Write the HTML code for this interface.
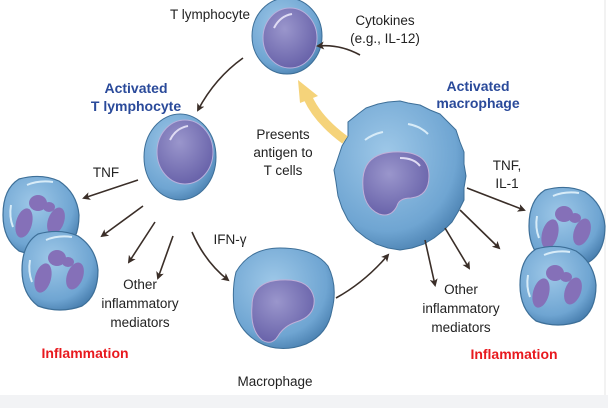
<!DOCTYPE html>
<html><head><meta charset="utf-8"><style>
body{margin:0;background:#fff}
svg{display:block}
text{font-family:"Liberation Sans",sans-serif;font-size:13.5px;fill:#222}
.b{fill:#2a4a9a;font-weight:bold;font-size:14px}
.r{fill:#e8191e;font-weight:bold;font-size:14px}
</style></head><body>
<svg width="608" height="408" viewBox="0 0 608 408" xmlns="http://www.w3.org/2000/svg">
<defs>
<radialGradient id="cell" cx="40%" cy="35%" r="70%"><stop offset="0" stop-color="#9ec8e8"/><stop offset="0.75" stop-color="#6fa5d2"/><stop offset="1" stop-color="#4a80b0"/></radialGradient>
<radialGradient id="nuc" cx="40%" cy="35%" r="70%"><stop offset="0" stop-color="#9a96cc"/><stop offset="1" stop-color="#6660a8"/></radialGradient>
<marker id="ah" markerWidth="8" markerHeight="8" refX="6" refY="4" orient="auto" markerUnits="userSpaceOnUse"><path d="M0,0 L8,4 L0,8 L2,4z" fill="#3a2e28"/></marker>
<g id="neut">
<path d="M-22,-36 Q0,-42 18,-34 Q36,-22 38,0 Q38,26 22,36 Q0,44 -22,36 Q-38,24 -38,0 Q-38,-26 -22,-36z" fill="url(#cell)" stroke="#3d6f98" stroke-width="1.2"/>
<g fill="#8570b8">
<ellipse cx="-17" cy="8" rx="8" ry="15" transform="rotate(15 -17 8)"/>
<ellipse cx="-3" cy="-12" rx="9" ry="8"/>
<ellipse cx="8" cy="-8" rx="6" ry="5"/>
<ellipse cx="15" cy="6" rx="8" ry="14" transform="rotate(20 15 6)"/>
</g>
<path d="M-14,-30 q12,-5 26,-3" stroke="#d8ecf8" stroke-width="2" fill="none"/>
<path d="M-30,-10 q-2,12 2,22" stroke="#d8ecf8" stroke-width="2" fill="none"/>
</g>
</defs>
<rect x="0" y="395" width="608" height="13" fill="#f2f3f5"/>
<line x1="605" y1="0" x2="605" y2="395" stroke="#e4e4e4"/>

<!-- T lymphocyte -->
<ellipse cx="287" cy="36" rx="35" ry="38" fill="url(#cell)" stroke="#3d6f98"/>
<ellipse cx="290" cy="38" rx="27" ry="30" fill="url(#nuc)" stroke="#b8b0dc"/>
<path d="M274,28 q6,-12 18,-14" stroke="#e0dcf4" stroke-width="2" fill="none"/>
<!-- Activated T -->
<ellipse cx="180" cy="157" rx="36" ry="43" fill="url(#cell)" stroke="#3d6f98"/>
<ellipse cx="185" cy="152" rx="28" ry="32" fill="url(#nuc)" stroke="#b8b0dc"/>
<path d="M170,140 q6,-12 18,-14" stroke="#e0dcf4" stroke-width="2" fill="none"/>
<!-- activated macrophage -->
<path d="M348,122 l10,-8 l8,-6 l12,-4 l10,-2 l12,-1 l8,2 l12,2 l10,5 l10,4 l8,8 l8,8 l4,12 l4,10 l0,12 l2,12 l-2,12 l0,12 l-6,12 l-6,10 l-8,8 l-10,8 l-10,6 l-12,4 l-12,2 l-12,-2 l-12,-4 l-10,-6 l-10,-8 l-8,-10 l-6,-12 l-4,-12 l-2,-14 l-2,-12 l4,-12 l4,-12 l6,-10z" fill="url(#cell)" stroke="#3d6f98" stroke-linejoin="round"/>
<path d="M363,178 q2,-24 30,-26 q36,-2 36,24 q0,20 -18,22 q-12,0 -14,8 q-6,12 -18,8 q-18,-8 -16,-36z" fill="url(#nuc)" stroke="#c0b0d8"/>
<path d="M400,158 q14,0 20,8" stroke="#e0dcf4" stroke-width="2" fill="none"/>
<path d="M365,140 q8,-6 18,-8 M408,124 q12,2 20,10" stroke="#d8ecf8" stroke-width="2" fill="none"/>
<!-- macrophage -->
<path d="M236,272 q14,-24 44,-24 q34,0 48,18 q10,20 4,44 q-4,24 -26,34 q-26,10 -48,-2 q-20,-12 -24,-34 q-2,-20 2,-36z" fill="url(#cell)" stroke="#3d6f98"/>
<path d="M252,306 q0,-24 28,-26 q30,-2 34,18 q2,18 -18,24 q-12,4 -18,14 q-6,10 -16,4 q-12,-10 -10,-34z" fill="url(#nuc)" stroke="#c0b0d8"/>
<!-- neutrophils -->
<use href="#neut" transform="translate(41,215)"/>
<use href="#neut" transform="translate(60,270)"/>
<use href="#neut" transform="translate(567,226)"/>
<use href="#neut" transform="translate(558,285)"/>

<!-- yellow arrow -->
<path d="M345,140 Q318,120 308,98" stroke="#f5d37a" stroke-width="9" fill="none"/>
<path d="M298,80 L318,96 L300,103z" fill="#f5d37a"/>

<g stroke="#3a2e28" stroke-width="1.6" fill="none" marker-end="url(#ah)">
<path d="M243,58 Q215,78 198,110"/>
<path d="M360,55 Q340,44 318,46"/>
<path d="M192,232 Q205,262 228,280"/>
<path d="M336,298 Q365,282 388,255"/>
<path d="M138,180 L84,198"/>
<path d="M143,206 L102,236"/>
<path d="M155,222 L129,262"/>
<path d="M173,236 L158,278"/>
<path d="M467,188 L524,210"/>
<path d="M460,210 L499,248"/>
<path d="M445,228 L469,268"/>
<path d="M425,240 L435,285"/>
</g>

<text x="210" y="19" text-anchor="middle">T lymphocyte</text>
<text x="385" y="25" text-anchor="middle">Cytokines</text>
<text x="385" y="43" text-anchor="middle">(e.g., IL-12)</text>
<text x="136" y="93" text-anchor="middle" class="b">Activated</text>
<text x="136" y="111" text-anchor="middle" class="b">T lymphocyte</text>
<text x="478" y="91" text-anchor="middle" class="b">Activated</text>
<text x="478" y="108" text-anchor="middle" class="b">macrophage</text>
<text x="283" y="139" text-anchor="middle">Presents</text>
<text x="283" y="157" text-anchor="middle">antigen to</text>
<text x="283" y="175" text-anchor="middle">T cells</text>
<text x="106" y="177" text-anchor="middle">TNF</text>
<text x="230" y="244" text-anchor="middle">IFN-γ</text>
<text x="140" y="289" text-anchor="middle">Other</text>
<text x="140" y="308" text-anchor="middle">inflammatory</text>
<text x="140" y="327" text-anchor="middle">mediators</text>
<text x="85" y="358" text-anchor="middle" class="r">Inflammation</text>
<text x="275" y="386" text-anchor="middle">Macrophage</text>
<text x="507" y="170" text-anchor="middle">TNF,</text>
<text x="507" y="188" text-anchor="middle">IL-1</text>
<text x="461" y="294" text-anchor="middle">Other</text>
<text x="461" y="313" text-anchor="middle">inflammatory</text>
<text x="461" y="332" text-anchor="middle">mediators</text>
<text x="514" y="359" text-anchor="middle" class="r">Inflammation</text>
</svg>
</body></html>
